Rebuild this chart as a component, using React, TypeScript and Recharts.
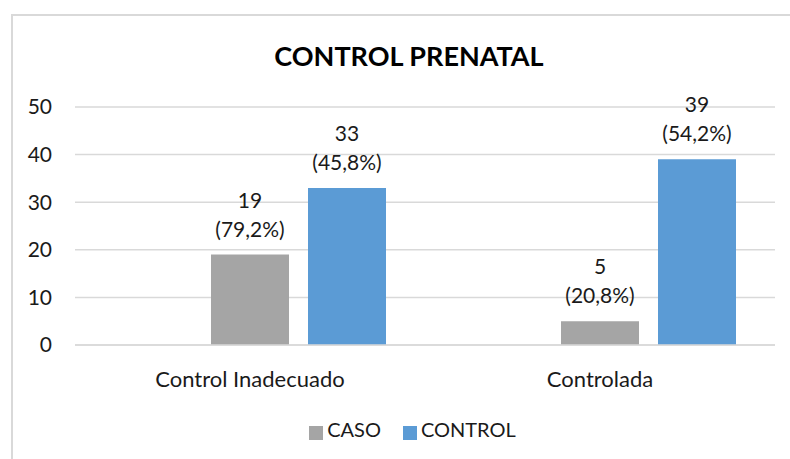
import { BarChart, Bar, XAxis, YAxis, CartesianGrid, Legend, LabelList } from 'recharts';

const categories = ['Control Inadecuado', 'Controlada'];
const casoValues = [19, 5];
const controlValues = [33, 39];
const casoPct = ['79,2%', '20,8%'];
const controlPct = ['45,8%', '54,2%'];
const yTicks = [0, 10, 20, 30, 40, 50];

const FONT = 'Lato, "Open Sans", sans-serif';
const TEXT = '#1a1a1a';

// empty first series keeps the Excel spacing (bars sit right of the category centre)
const data = categories.map((name, i) => ({
  name,
  vacio: null,
  caso: casoValues[i],
  control: controlValues[i],
}));

const makeLabel = (pcts: string[]) => (props: any) => {
  const { x, y, width, value, index } = props;
  const cx = Number(x) + Number(width) / 2;
  return (
    <text x={cx} y={y} textAnchor="middle" fontSize={21} fontFamily={FONT} fill={TEXT}>
      <tspan x={cx} dy={-47}>
        {value}
      </tspan>
      <tspan x={cx} dy={29}>
        ({pcts[index]})
      </tspan>
    </text>
  );
};

export default function App() {
  return (
    <div style={{ position: 'absolute', left: 0, top: 0, width: 790, height: 459, background: '#fff', overflow: 'hidden' }}>
      <div
        style={{
          position: 'absolute',
          left: 11,
          top: 14,
          width: 800,
          height: 460,
          borderTop: '2px solid #d9d9d9',
          borderLeft: '2px solid #d9d9d9',
        }}
      />
      <div
        style={{
          position: 'absolute',
          left: 0,
          top: 39,
          width: 818,
          textAlign: 'center',
          fontFamily: FONT,
          fontWeight: 'bold',
          fontSize: 27,
          color: '#000',
        }}
      >
        CONTROL PRENATAL
      </div>
      <BarChart
        width={790}
        height={459}
        data={data}
        margin={{ top: 107, right: 15, left: 0, bottom: 16 }}
        barSize={78}
        barGap={19}
        style={{ position: 'absolute', left: 0, top: 0 }}
      >
        <CartesianGrid vertical={false} stroke="#d9d9d9" strokeWidth={1.5} />
        <XAxis
          dataKey="name"
          height={72}
          axisLine={{ stroke: '#d9d9d9', strokeWidth: 1.5 }}
          tickLine={false}
          tickSize={0}
          tickMargin={26}
          tick={{ fontSize: 22, fontFamily: FONT, fill: TEXT }}
        />
        <YAxis
          width={75}
          domain={[0, 50]}
          ticks={yTicks}
          axisLine={false}
          tickLine={false}
          tickSize={0}
          tickMargin={23}
          tick={{ fontSize: 21, fontFamily: FONT, fill: TEXT }}
        />
        <Legend
          verticalAlign="bottom"
          iconType="square"
          iconSize={14}
          height={26}
          wrapperStyle={{ left: 36 }}
          formatter={(value: string) => (
            <span style={{ color: TEXT, fontSize: 20, fontFamily: FONT, marginRight: 12 }}>{value}</span>
          )}
        />
        <Bar dataKey="vacio" legendType="none" fill="none" isAnimationActive={false} />
        <Bar dataKey="caso" name="CASO" fill="#a5a5a5" isAnimationActive={false}>
          <LabelList dataKey="caso" content={makeLabel(casoPct)} />
        </Bar>
        <Bar dataKey="control" name="CONTROL" fill="#5b9bd5" isAnimationActive={false}>
          <LabelList dataKey="control" content={makeLabel(controlPct)} />
        </Bar>
      </BarChart>
    </div>
  );
}
